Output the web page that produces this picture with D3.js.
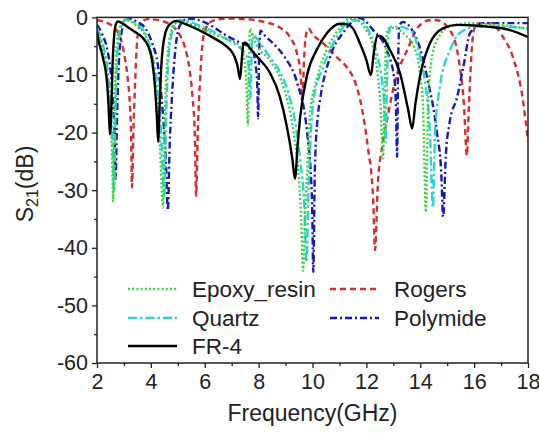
<!DOCTYPE html>
<html><head><meta charset="utf-8">
<script src="https://cdn.jsdelivr.net/npm/d3@7"></script>
<style>body{margin:0;background:#fff}svg{display:block}text{font-family:"Liberation Sans",Arial,sans-serif;fill:#222}</style>
</head><body><svg id="c" width="539" height="433"></svg>
<script>
// ---- data ----
const xTicks=[2,4,6,8,10,12,14,16,18];
const yTicks=[0,-10,-20,-30,-40,-50,-60];
const seriesNames=["Epoxy_resin","Quartz","FR-4","Rogers","Polymide"];

const fr4F=[2.0,2.04,2.22,2.37,2.43,2.48,2.53,2.58,2.64,2.7,2.78,2.9,3.15,3.4,3.67,3.9,4.05,4.15,4.22,4.27,4.32,4.38,4.45,4.55,4.7,4.95,5.2,5.6,5.95,6.45,6.75,7.05,7.12,7.22,7.31,7.38,7.44,7.5,7.7,7.98,8.42,8.79,9.05,9.25,9.35,9.45,9.55,9.8,10.17,10.54,11.02,11.3,11.5,11.76,12.0,12.17,12.28,12.4,12.5,12.88,13.25,13.55,13.7,13.82,14.0,14.36,14.84,15.36,16.0,16.48,17.33,18.0];
const fr4V=[-2.5,-3.6,-7,-11.2,-15.5,-20.3,-16,-8,-3,-1.2,-0.7,-0.9,-1.7,-2.5,-3.4,-5,-7.5,-12,-17,-21.6,-16,-9,-5,-2.5,-1.2,-0.6,-1.0,-1.8,-2.6,-3.9,-4.8,-6.3,-7,-8.5,-10.7,-7,-4.5,-4.4,-5.5,-7,-9.6,-13.8,-19,-24.5,-28,-22,-17,-10,-5.5,-2.7,-1.1,-1.2,-1.9,-4.5,-7.4,-10,-6,-3.3,-3.2,-5.7,-9.7,-16,-19.3,-15,-10,-4.5,-1.9,-1.3,-1.4,-1.6,-2.2,-3.4];

const rogersF=[2.0,2.3,2.55,2.75,2.9,3.05,3.15,3.22,3.27,3.3,3.35,3.41,3.47,3.55,3.65,3.9,4.3,4.7,5.0,5.27,5.45,5.55,5.63,5.68,5.74,5.82,5.93,6.05,6.3,6.8,7.5,8.2,8.8,9.16,9.42,9.56,9.62,9.7,9.78,9.85,10.0,10.4,10.9,11.3,11.58,11.83,12.06,12.25,12.32,12.43,12.58,12.8,13.06,13.55,13.9,14.36,14.6,15.1,15.47,15.62,15.73,15.8,15.87,15.93,16.0,16.1,16.6,17.07,17.44,17.8,18.0];
const rogersV=[-0.5,-0.8,-1.4,-2.4,-4,-7.5,-11,-15,-21,-29.5,-20,-12,-5.5,-2,-0.8,-0.3,-0.5,-1.2,-2.5,-5.3,-9.5,-14,-20,-31,-20,-11.4,-4,-1.8,-0.6,-0.2,-0.3,-0.8,-1.8,-3.4,-6.2,-10,-14,-6,-2.5,-1.9,-2.9,-4.5,-6.9,-8.8,-11.2,-15.7,-22.7,-31.4,-40.4,-28.5,-22.7,-17,-11.2,-5.3,-1.8,-0.5,-0.5,-2.2,-8.6,-15,-24,-16,-9,-4.5,-2,-1,-1,-3.4,-6.9,-14,-21.5];

const epoxyF=[2.0,2.17,2.35,2.46,2.53,2.57,2.6,2.64,2.68,2.75,2.85,3.0,3.1,3.4,3.78,4.04,4.23,4.34,4.45,4.52,4.6,4.7,4.85,5.0,5.3,5.8,6.4,6.9,7.3,7.45,7.55,7.6,7.64,7.68,7.8,7.98,8.42,8.8,9.1,9.3,9.46,9.58,9.65,9.73,9.8,9.9,10.17,10.54,10.95,11.4,11.7,12.0,12.25,12.4,12.52,12.62,12.68,12.74,12.8,13.0,13.43,13.8,14.0,14.1,14.21,14.29,14.4,14.62,15.1,15.85,16.5,17.3,18.0];
const epoxyV=[-2,-4.5,-8.8,-14,-20,-26,-32,-20,-10,-4,-1.5,-0.5,-0.4,-1.2,-3,-8,-14,-22.7,-33,-17,-8,-3.5,-1.5,-0.7,-0.9,-1.8,-3.0,-3.9,-5.0,-7,-12,-18.7,-8,-2,-3.5,-5.2,-7.4,-10.5,-15,-20,-26,-35,-44,-34,-27,-17,-10.5,-5.5,-2.2,-0.2,-0.6,-2.2,-5,-9,-15,-24.5,-12,-4,-2,-1.8,-3,-5.5,-10,-15,-33.8,-15,-8,-4,-1.6,-1,-1.2,-1.5,-2];

const quartzF=[2.0,2.19,2.37,2.48,2.56,2.6,2.64,2.68,2.73,2.8,2.9,3.05,3.2,3.5,3.78,4.04,4.25,4.38,4.5,4.56,4.63,4.72,4.85,5.05,5.3,5.8,6.3,6.75,7.23,7.5,7.62,7.7,7.74,7.78,7.9,8.42,8.8,9.1,9.35,9.55,9.7,9.78,9.84,9.92,10.05,10.4,10.9,11.5,11.8,12.13,12.4,12.58,12.66,12.72,12.77,12.82,12.9,13.2,13.7,14.0,14.2,14.36,14.47,14.55,14.73,15.1,15.47,16.1,17.0,18.0];
const quartzV=[-1.8,-4.3,-8.3,-14,-20,-25,-30,-18,-9,-4,-1.6,-0.4,-0.5,-1.3,-2.6,-6.5,-12,-20,-31,-18,-9,-4,-1.8,-0.5,-0.6,-1.4,-2.4,-3.6,-5,-6.3,-8,-14,-6,-2.8,-3.5,-6.9,-9.5,-13,-18,-25,-33,-42.5,-32,-22,-14,-8.6,-3.4,-0.5,-0.6,-2.7,-6.5,-11,-15,-21.7,-10,-3.5,-1.6,-1.6,-2.5,-7,-12,-20,-33,-20,-12,-5.7,-2.7,-1.6,-1.6,-1.9];

const polyF=[2.0,2.2,2.4,2.52,2.6,2.65,2.69,2.74,2.8,2.87,2.95,3.1,3.25,3.5,3.78,4.05,4.26,4.45,4.55,4.63,4.7,4.78,4.9,5.0,5.1,5.38,5.8,6.3,6.75,7.23,7.75,7.88,7.95,7.98,8.02,8.07,8.2,8.6,8.98,9.42,9.8,9.98,10.03,10.09,10.2,10.28,10.65,11.13,11.76,12.0,12.25,12.76,13.06,13.1,13.14,13.18,13.22,13.35,13.7,14.0,14.25,14.62,14.78,14.85,14.95,15.1,15.36,15.6,15.85,16.33,17.0,18.0];
const polyV=[-1.3,-3,-6,-10,-15,-20,-28,-18,-9,-4,-1.8,-0.4,-0.3,-0.8,-1.8,-4.5,-8.3,-17,-24,-33.5,-22,-14,-6,-2.5,-1.2,-0.2,-0.5,-1.6,-3,-4.2,-5.4,-8,-12,-17.5,-6,-2.3,-3,-4.8,-7,-11.2,-20,-31.4,-44.2,-26,-17,-14.3,-6.9,-2.7,-0.1,-0.8,-2.2,-5.7,-11.4,-16,-24.2,-8,-1.5,-0.8,-2.2,-5.5,-10.3,-20,-27,-34.6,-24,-18,-14,-8.6,-2.7,-1,-1,-1];

// ---- layout ----
const svg=d3.select("#c");
const L=97,R=528,T=17.4,B=363;
const x=d3.scaleLinear().domain([2,18]).range([L,R]);
const y=d3.scaleLinear().domain([-60,0]).range([B,T]);

const styles={
 "Rogers":{c:"#d03030",d:"6,4"},
 "Polymide":{c:"#1a1aaa",d:"7,3,2,3"},
 "Quartz":{c:"#2dd2d2",d:"9,3,2.5,3"},
 "Epoxy_resin":{c:"#40d040",d:"2,2.2"},
 "FR-4":{c:"#000",d:null}
};
const series=[
 {n:"Rogers",f:rogersF,v:rogersV},
 {n:"Polymide",f:polyF,v:polyV},
 {n:"Quartz",f:quartzF,v:quartzV},
 {n:"Epoxy_resin",f:epoxyF,v:epoxyV},
 {n:"FR-4",f:fr4F,v:fr4V}
];
svg.append("defs").append("clipPath").attr("id","clip").append("rect")
  .attr("x",L).attr("y",T).attr("width",R-L).attr("height",B-T);
const line=d3.line().x(d=>x(d[0])).y(d=>y(d[1])).curve(d3.curveMonotoneX);
const g=svg.append("g").attr("clip-path","url(#clip)");
series.forEach(s=>{
  const pts=s.f.map((f,i)=>[f,s.v[i]]);
  g.append("path").datum(pts).attr("d",line).attr("fill","none")
   .attr("stroke",styles[s.n].c).attr("stroke-width",2.4)
   .attr("stroke-dasharray",styles[s.n].d);
});

// axes
const xa=svg.append("g").attr("transform",`translate(0,${B})`)
  .call(d3.axisBottom(x).tickValues(xTicks).tickSize(5).tickPadding(6).tickFormat(d3.format("d")));
const xm=svg.append("g").attr("transform",`translate(0,${B})`)
  .call(d3.axisBottom(x).tickValues(d3.range(3,18,2)).tickSize(3).tickFormat(""));
const ya=svg.append("g").attr("transform",`translate(${L},0)`)
  .call(d3.axisLeft(y).tickValues(yTicks).tickSize(5).tickPadding(4).tickFormat(d=>d===0?"0":d3.format("d")(d).replace("−","-")));
const ym=svg.append("g").attr("transform",`translate(${L},0)`)
  .call(d3.axisLeft(y).tickValues(d3.range(-55,0,10)).tickSize(3).tickFormat(""));
[xa,xm,ya,ym].forEach(a=>{a.select(".domain").remove();a.selectAll("line").attr("stroke","#222").attr("stroke-width",1.3);});
xa.selectAll("text").style("font-size","21.5px").attr("fill","#222");
ya.selectAll("text").style("font-size","21.5px").attr("fill","#222");
svg.append("rect").attr("x",L).attr("y",T).attr("width",R-L).attr("height",B-T)
  .attr("fill","none").attr("stroke","#222").attr("stroke-width",1.5);

// titles
svg.append("text").attr("x",(L+R)/2).attr("y",421).attr("text-anchor","middle")
  .style("font-size","23px").text("Frequency(GHz)");
const yt=svg.append("text").attr("transform","translate(33,184) rotate(-90)")
  .attr("text-anchor","middle").style("font-size","23px");
yt.append("tspan").text("S");
yt.append("tspan").text("21").style("font-size","16px").attr("dy",5);
yt.append("tspan").text("(dB)").attr("dy",-5);

// legend
const leg=[
 {n:"Epoxy_resin",x:128,y:289},{n:"Quartz",x:128,y:318},{n:"FR-4",x:128,y:346},
 {n:"Rogers",x:330,y:289},{n:"Polymide",x:330,y:318}
];
leg.forEach(l=>{
  svg.append("line").attr("x1",l.x).attr("x2",l.x+49).attr("y1",l.y).attr("y2",l.y)
   .attr("stroke",styles[l.n].c).attr("stroke-width",2.4).attr("stroke-dasharray",styles[l.n].d);
  svg.append("text").attr("x",l.x+64).attr("y",l.y+8).style("font-size","22.5px").text(l.n);
});
</script></body></html>
